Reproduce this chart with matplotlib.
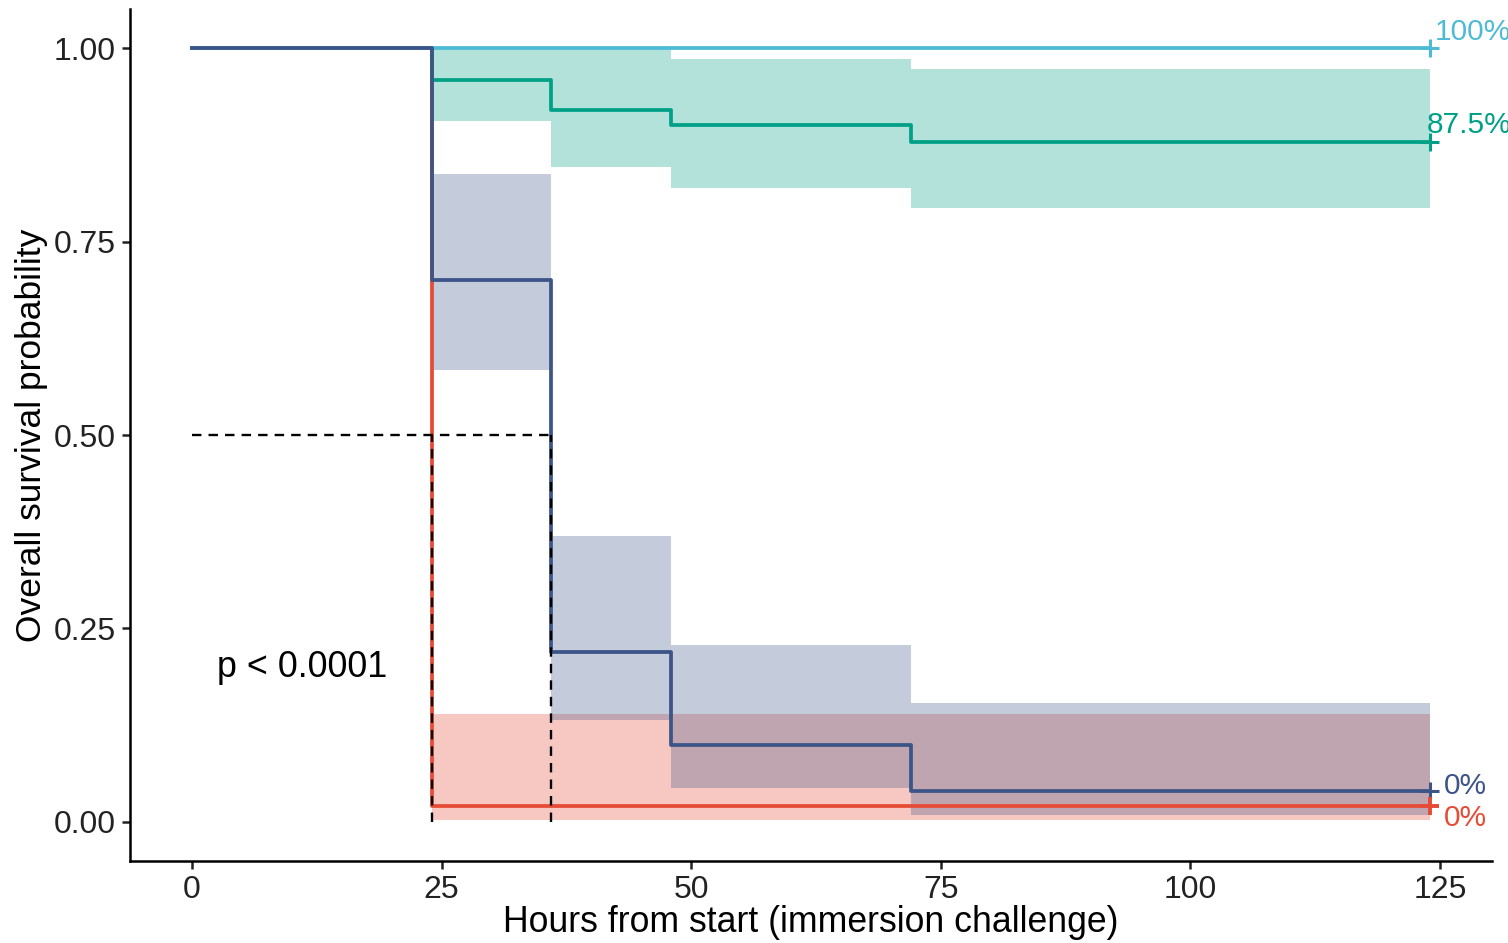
import matplotlib.pyplot as plt
import numpy as np

plt.rcParams['font.family'] = ['Liberation Sans', 'DejaVu Sans']

# survival curves (time in hours)
t_grp = [0, 24, 36, 48, 72, 124]
teal_s = [1.0, 0.959, 0.920, 0.900, 0.879, 0.879]
teal_lo = [1.0, 0.906, 0.846, 0.819, 0.793, 0.793]
teal_hi = [1.0, 1.0, 1.0, 0.986, 0.973, 0.973]
navy_s = [1.0, 0.700, 0.220, 0.100, 0.040, 0.040]
navy_lo = [1.0, 0.584, 0.132, 0.044, 0.009, 0.009]
navy_hi = [1.0, 0.837, 0.370, 0.229, 0.154, 0.154]
t_red = [0, 24, 124]
red_s = [1.0, 0.021, 0.021]
red_lo = [1.0, 0.003, 0.003]
red_hi = [1.0, 0.140, 0.140]
t_cyan = [0, 124]
cyan_s = [1.0, 1.0]
end_labels = ["100%", "87.5%", "0%", "0%"]

c_red = '#E64B35'
c_cyan = '#4DBBD5'
c_teal = '#00A087'
c_navy = '#3C5488'

fig = plt.figure(figsize=(15.08, 9.43), dpi=100)
ax = fig.add_axes([0.0862, 0.0873, 0.9032, 0.9028])

# confidence bands
ax.fill_between(t_grp, teal_lo, teal_hi, step='post', color=c_teal, alpha=0.3, lw=0)
ax.fill_between(t_red, red_lo, red_hi, step='post', color=c_red, alpha=0.3, lw=0)
ax.fill_between(t_grp, navy_lo, navy_hi, step='post', color=c_navy, alpha=0.3, lw=0)

# curves
lw = 2.7
ax.step(t_red, red_s, where='post', color=c_red, lw=lw)
ax.step(t_grp, teal_s, where='post', color=c_teal, lw=lw)
ax.step(t_cyan, cyan_s, where='post', color=c_cyan, lw=lw)
ax.step(t_grp, navy_s, where='post', color=c_navy, lw=lw)

# censor marks
ax.plot(124, 1.0, '+', color=c_cyan, ms=13, mew=2.2)
ax.plot(124, teal_s[-1], '+', color=c_teal, ms=13, mew=2.2)
ax.plot(124, navy_s[-1], '+', color=c_navy, ms=13, mew=2.2)
ax.plot(124, red_s[-1], '+', color=c_red, ms=13, mew=2.8)

# median lines
ax.plot([0, 36], [0.5, 0.5], ls=(0, (4, 3)), color='black', lw=1.7)
ax.plot([24, 24], [0, 0.5], ls=(0, (4, 3)), color='black', lw=1.7)
ax.plot([36, 36], [0, 0.5], ls=(0, (4, 3)), color='black', lw=1.7)

# end labels
ax.text(124.5, 1.021, end_labels[0], color=c_cyan, fontsize=21.5, va='center', ha='left', clip_on=False)
ax.text(123.7, 0.900, end_labels[1], color=c_teal, fontsize=21.5, va='center', ha='left', clip_on=False)
ax.text(125.4, 0.046, end_labels[2], color=c_navy, fontsize=21.5, va='center', ha='left', clip_on=False)
ax.text(125.4, 0.005, end_labels[3], color=c_red, fontsize=21.5, va='center', ha='left', clip_on=False)

ax.text(2.5, 0.199, "p < 0.0001", fontsize=25.8, va='center', ha='left')

ax.set_xlim(-6.2, 130.2)
ax.set_ylim(-0.05, 1.05)
ax.set_xticks([0, 25, 50, 75, 100, 125])
ax.set_yticks([0, 0.25, 0.5, 0.75, 1.0])
ax.set_yticklabels(["0.00", "0.25", "0.50", "0.75", "1.00"])
ax.tick_params(labelsize=23, length=6, width=1.8, colors='#222222', pad=4)
for s in ['top', 'right']:
    ax.spines[s].set_visible(False)
for s in ['left', 'bottom']:
    ax.spines[s].set_linewidth(1.8)
ax.set_xlabel("Hours from start (immersion challenge)", fontsize=25.7, labelpad=0)
ax.set_ylabel("Overall survival probability", fontsize=25.5, labelpad=4)

plt.savefig("out.png", dpi=100)
